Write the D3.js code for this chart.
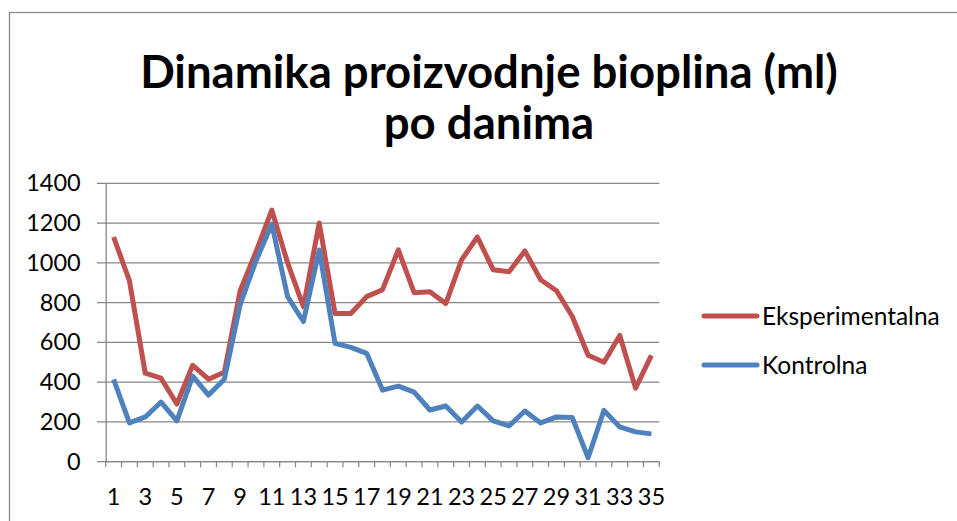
<!DOCTYPE html>
<html>
<head>
<meta charset="utf-8">
<script src="https://cdn.jsdelivr.net/npm/d3@7/dist/d3.min.js"></script>
<style>
  body { margin: 0; background: #fff; }
  text { font-family: Lato, "Open Sans", sans-serif; fill: #000; }
</style>
</head>
<body>
<svg id="chart" width="957" height="521"></svg>
<script>
// days 1..35
var days = d3.range(1, 36);
var eksperimentalna = [1130, 910, 445, 420, 290, 485, 415, 450, 860, 1055,
  1265, 1000, 780, 1200, 745, 745, 830, 865, 1065, 850,
  855, 795, 1015, 1130, 965, 955, 1060, 915, 860, 730,
  535, 500, 635, 370, 535];
var kontrolna = [414, 195, 225, 300, 205, 430, 335, 415, 790, 1010,
  1195, 830, 705, 1065, 595, 575, 545, 360, 380, 350,
  260, 280, 200, 280, 205, 180, 255, 195, 225, 222,
  20, 258, 175, 150, 140];
var yTicks = [0, 200, 400, 600, 800, 1000, 1200, 1400];
var seriesNames = ["Eksperimentalna", "Kontrolna"];
var seriesColors = ["#C0504D", "#4F81BD"];

var svg = d3.select("#chart");

// outer chart border (runs off the right / bottom of the picture)
svg.append("rect")
  .attr("x", 9.5).attr("y", 12.5)
  .attr("width", 960).attr("height", 520)
  .attr("fill", "none")
  .attr("stroke", "#8c8c8c")
  .attr("stroke-width", 1.3);

var x = d3.scaleBand().domain(days).range([105.7, 659.3]).padding(0);
var y = d3.scaleLinear().domain([0, 1400]).range([461.7, 183.3]);

// gridlines
svg.append("g")
  .selectAll("line")
  .data(yTicks)
  .join("line")
  .attr("x1", 97).attr("x2", 659.3)
  .attr("y1", d => y(d)).attr("y2", d => y(d))
  .attr("stroke", "#878787")
  .attr("stroke-width", 1.2);

// y axis
var yAxis = svg.append("g")
  .attr("transform", "translate(105.7,0)")
  .call(d3.axisLeft(y).tickValues(yTicks).tickSize(0).tickPadding(25).tickFormat(d3.format("d")));
yAxis.select(".domain").attr("stroke", "#878787").attr("stroke-width", 1.3);
yAxis.selectAll("text").attr("font-size", "23.5px").attr("font-family", "Lato, sans-serif").attr("fill", "#000");

// x axis line + ticks at category boundaries
var xg = svg.append("g");
xg.append("line")
  .attr("x1", 105.7).attr("x2", 659.3)
  .attr("y1", y(0)).attr("y2", y(0))
  .attr("stroke", "#878787").attr("stroke-width", 1.3);
xg.selectAll("line.tk")
  .data(days.concat([36]))
  .join("line")
  .attr("class", "tk")
  .attr("x1", d => d <= 35 ? x(d) : x(35) + x.bandwidth())
  .attr("x2", d => d <= 35 ? x(d) : x(35) + x.bandwidth())
  .attr("y1", y(0)).attr("y2", y(0) + 5.5)
  .attr("stroke", "#878787").attr("stroke-width", 1.2);
xg.selectAll("text")
  .data(days.filter(d => d % 2 === 1))
  .join("text")
  .attr("x", d => x(d) + x.bandwidth() / 2)
  .attr("y", 505)
  .attr("text-anchor", "middle")
  .attr("font-size", "23.5px")
  .text(d => d);

// lines
var line = d3.line()
  .x((d, i) => x(days[i]) + x.bandwidth() / 2)
  .y(d => y(d));

[eksperimentalna, kontrolna].forEach(function(s, k) {
  svg.append("path")
    .datum(s)
    .attr("d", line)
    .attr("fill", "none")
    .attr("stroke", seriesColors[k])
    .attr("stroke-width", 5)
    .attr("stroke-linejoin", "round");
});

// legend
var leg = svg.append("g");
seriesNames.forEach(function(n, k) {
  var ly = 316 + k * 49;
  leg.append("line")
    .attr("x1", 704).attr("x2", 757)
    .attr("y1", ly).attr("y2", ly)
    .attr("stroke", seriesColors[k])
    .attr("stroke-width", 5)
    .attr("stroke-linecap", "round");
  leg.append("text")
    .attr("x", 762).attr("y", ly + 8.5)
    .attr("font-size", "24.5px")
    .text(n);
});

// title
var t1 = svg.append("text")
  .attr("x", 489).attr("y", 88)
  .attr("text-anchor", "middle")
  .attr("font-weight", "bold")
  .attr("font-size", "44px")
  .text("Dinamika proizvodnje bioplina (ml)");
var t2 = svg.append("text")
  .attr("x", 489).attr("y", 139)
  .attr("text-anchor", "middle")
  .attr("font-weight", "bold")
  .attr("font-size", "44px")
  .text("po danima");
var w = t1.node().getComputedTextLength();
var fs = 44 * 698 / w;
t1.attr("font-size", fs + "px");
t2.attr("font-size", fs + "px");
</script>
</body>
</html>
